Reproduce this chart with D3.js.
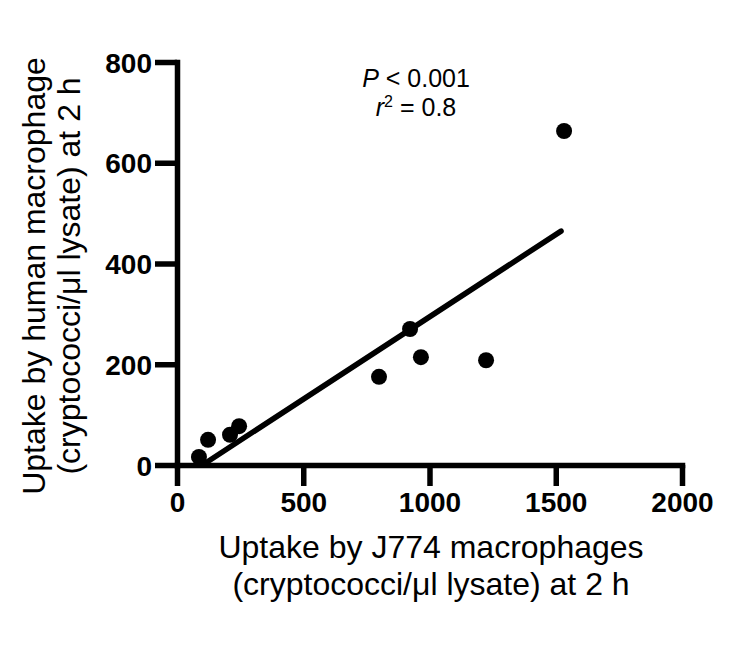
<!DOCTYPE html>
<html>
<head>
<meta charset="utf-8">
<script src="https://cdn.jsdelivr.net/npm/d3@7"></script>
<style>
  body { margin: 0; background: #fff; }
  text { font-family: "Liberation Sans", Arial, Helvetica, sans-serif; }
</style>
</head>
<body>
<div id="chart"></div>
<script>
// data
const j774Uptake  = [87, 123, 210, 246, 800, 923, 966, 1224, 1533];
const humanUptake = [16, 50, 60, 77, 175, 270, 214, 208, 663];
const xTicks = [0, 500, 1000, 1500, 2000];
const yTicks = [0, 200, 400, 600, 800];
// regression line (slope, intercept) and its x range
const fitCoef = [0.327, -33];
const fitRange = [101, 1521];

const W = 752, H = 645;
const margin = { top: 62, right: 70, bottom: 180, left: 177 };
const width = 682 - margin.left;
const height = 465 - margin.top;

const svg = d3.select('#chart').append('svg')
    .attr('width', W).attr('height', H);
const g = svg.append('g')
    .attr('transform', 'translate(' + margin.left + ',' + margin.top + ')');

const x = d3.scaleLinear().domain([0, 2000]).range([0, width]);
const y = d3.scaleLinear().domain([0, 800]).range([height, 0]);

// fit line
const fitData = fitRange.map(v => [v, fitCoef[0] * v + fitCoef[1]]);
g.append('path')
    .datum(fitData)
    .attr('d', d3.line().x(d => x(d[0])).y(d => y(d[1])))
    .attr('fill', 'none')
    .attr('stroke', '#000')
    .attr('stroke-width', 5.5)
    .attr('stroke-linecap', 'round');

// axes
const xAxis = g.append('g')
    .attr('transform', 'translate(0,' + height + ')')
    .call(d3.axisBottom(x).tickValues(xTicks).tickFormat(d3.format('d'))
        .tickSize(21).tickSizeOuter(0).tickPadding(6));
const yAxis = g.append('g')
    .call(d3.axisLeft(y).tickValues(yTicks).tickFormat(d3.format('d'))
        .tickSize(22).tickSizeOuter(0).tickPadding(3));

[xAxis, yAxis].forEach(a => {
    a.selectAll('path, line').attr('stroke', '#000').attr('stroke-width', 5.5);
    a.select('.domain').attr('stroke-linecap', 'square');
    a.selectAll('text')
        .style('font-size', '28px')
        .style('font-weight', 'bold')
        .attr('fill', '#000');
});
yAxis.selectAll('text').attr('dy', '0.36em');

// points
g.selectAll('circle.pt')
    .data(j774Uptake.map((v, i) => [v, humanUptake[i]]))
    .join('circle')
    .attr('class', 'pt')
    .attr('cx', d => x(d[0]))
    .attr('cy', d => y(d[1]))
    .attr('r', 8)
    .attr('fill', '#000');

// annotation
const ann = svg.append('g').style('font-size', '25px');
const t1 = ann.append('text').attr('x', 416).attr('y', 87).attr('text-anchor', 'middle');
t1.append('tspan').style('font-style', 'italic').text('P');
t1.append('tspan').text(' < 0.001');
const t2 = ann.append('text').attr('x', 416).attr('y', 116).attr('text-anchor', 'middle');
t2.append('tspan').style('font-style', 'italic').text('r');
t2.append('tspan').attr('dy', -9).style('font-size', '16px').text('2');
t2.append('tspan').attr('dy', 9).text(' = 0.8');

// axis titles
const xt = svg.append('g').style('font-size', '32px').attr('text-anchor', 'middle');
xt.append('text').attr('x', 431).attr('y', 558).text('Uptake by J774 macrophages');
xt.append('text').attr('x', 431).attr('y', 595).text('(cryptococci/\u03bcl lysate) at 2 h');

const yt = svg.append('g').style('font-size', '32px').attr('text-anchor', 'middle')
    .attr('transform', 'translate(0,276) rotate(-90)');
yt.append('text').attr('x', 0).attr('y', 45).text('Uptake by human macrophage');
yt.append('text').attr('x', 0).attr('y', 80).text('(cryptococci/\u03bcl lysate) at 2 h');
</script>
</body>
</html>
